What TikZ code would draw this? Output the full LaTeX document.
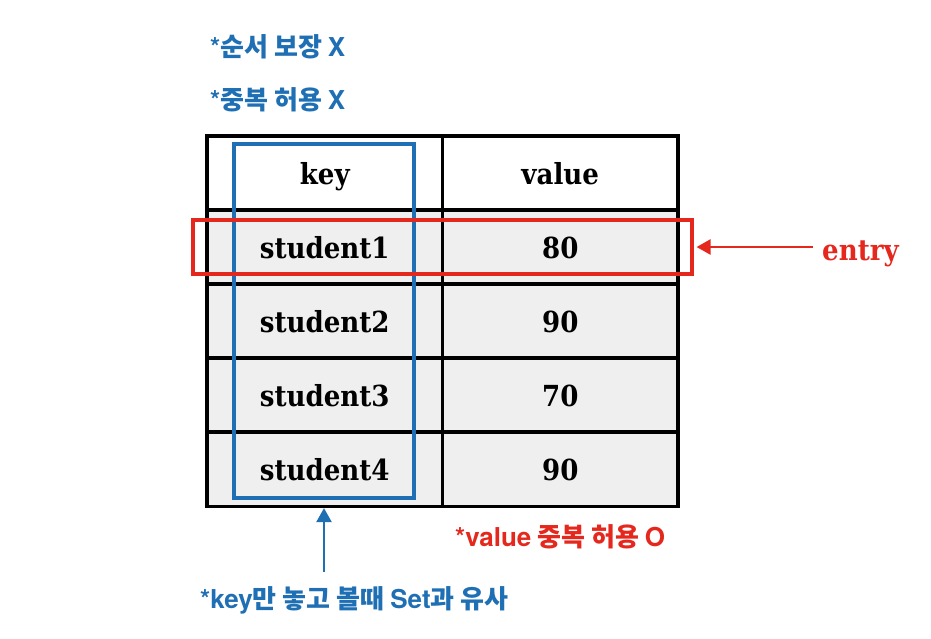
\documentclass[tikz,border=0pt]{standalone}
\usepackage{fontspec}
\newfontfamily\kr{Noto Sans CJK KR}
\newfontfamily\lat{TeX Gyre Heros}
\newfontfamily\cellfont{DejaVu Serif Condensed}
\usetikzlibrary{arrows.meta}
\definecolor{kblue}{HTML}{1F6FB4}
\definecolor{kred}{HTML}{E5281E}
\definecolor{cellgray}{HTML}{EFEFEF}
\tikzset{
  cell/.style={draw=black, line width=3.2pt, minimum width=235.5pt, minimum height=74pt, inner sep=0pt,
    text height=22pt, text depth=0pt, font=\cellfont\bfseries\fontsize{29}{32}\selectfont},
  graycell/.style={cell, fill=cellgray},
  whitecell/.style={cell, fill=white},
  bluebox/.style={draw=kblue, line width=3.1pt, minimum width=180pt, minimum height=354pt, inner sep=0pt},
  redbox/.style={draw=kred, line width=3.1pt, minimum width=499pt, minimum height=54pt, inner sep=0pt},
  note/.style={font=\kr\bfseries\fontsize{26}{30}\selectfont, inner sep=0pt, anchor=west},
  redarrow/.style={draw=kred, line width=2.4pt, -{Triangle[length=14pt,width=15pt]}},
  bluearrow/.style={draw=kblue, line width=2.4pt, -{Triangle[length=14pt,width=15pt]}},
}
\newcommand{\la}[1]{{\lat\bfseries #1}}
\begin{document}
\begin{tikzpicture}[x=1pt,y=-1pt]
\useasboundingbox (0,0) rectangle (931,638);
% table
\node[whitecell] (k0) at (324.75,173) {key};
\node[whitecell] (v0) at (560.25,173) {value};
\node[graycell] (k1) at (324.75,247) {student1};
\node[graycell] (v1) at (560.25,247) {80};
\node[graycell] (k2) at (324.75,321) {student2};
\node[graycell] (v2) at (560.25,321) {90};
\node[graycell] (k3) at (324.75,395) {student3};
\node[graycell] (v3) at (560.25,395) {70};
\node[graycell] (k4) at (324.75,469.5) {student4};
\node[graycell] (v4) at (560.25,469.5) {90};
% highlight boxes
\node[bluebox] (keybox) at (324,321) {};
\node[redbox] (entrybox) at (442.5,247) {};
% entry label and arrow
\node[text=kred, font=\cellfont\bfseries\fontsize{29}{32}\selectfont, inner xsep=9pt, inner ysep=0pt, anchor=base west] (entry) at (813,260) {entry};
\draw[redarrow, shorten >=3pt] (entry.west |- entrybox.east) -- (entrybox.east);
% notes
\node[note, text=kblue] (n1) at (210,47) {\la{*}순서 보장 \la{X}};
\node[note, text=kblue] (n2) at (210,100) {\la{*}중복 허용 \la{X}};
\node[note, text=kred] (n3) at (455,537) {\la{*value} 중복 허용 \la{O}};
\node[note, text=kblue] (n4) at (200,600) {\la{*key}만 놓고 볼때 \la{Set}과 유사};
% key arrow
\coordinate (keytail) at (324,572);
\draw[bluearrow] (keytail) -- (keytail |- k4.south);
\end{tikzpicture}
\end{document}
